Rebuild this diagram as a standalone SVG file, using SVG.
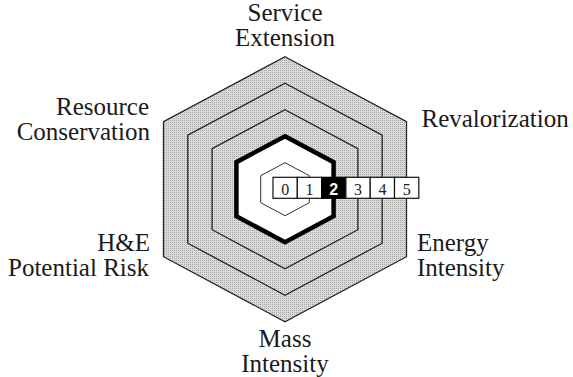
<svg xmlns="http://www.w3.org/2000/svg" width="573" height="377" viewBox="0 0 573 377">
  <style>
    .lbl { font-family: "Liberation Serif", "Times New Roman", serif; font-size: 25px; fill: #1a1a1a; }
    .ring { stroke: #222; stroke-width: 1.3; stroke-linejoin: miter; }
    .open { fill: none; }
    .band { fill: url(#stipple); }
    .cell { fill: #fff; stroke: #111; stroke-width: 1.2; }
    .num { font-family: "Liberation Serif", "Times New Roman", serif; font-size: 16px; fill: #222; text-anchor: middle; }
  </style>
  <defs>
    <!-- stippled grey used for the outer score bands -->
    <pattern id="stipple" width="2" height="2" patternUnits="userSpaceOnUse">
      <rect width="2" height="2" fill="#dadada"/>
      <rect width="1" height="1" fill="#a8a8a8"/>
    </pattern>
  </defs>
  <rect width="573" height="377" fill="#fff"/>

  <!-- score bands, level 5 down to level 1 -->
  <g id="bands">
    <polygon id="level5" class="ring band" points="285,56.7 406.5,121.7 406.5,256.7 285,321.7 163.5,256.7 163.5,121.7"/>
    <polygon id="level4" class="ring open" points="285,83.2 382.2,135.2 382.2,243.2 285,295.2 187.8,243.2 187.8,135.2"/>
    <polygon id="level3" class="ring open" points="285,109.7 357.9,148.7 357.9,229.7 285,268.7 212.1,229.7 212.1,148.7"/>
    <polygon id="level2" points="285,136.2 333.6,162.2 333.6,216.2 285,242.2 236.4,216.2 236.4,162.2" fill="#fff" stroke="#000" stroke-width="4.5" stroke-linejoin="miter"/>
    <polygon id="level1" points="285,162.7 309.3,175.7 309.3,202.7 285,215.7 260.7,202.7 260.7,175.7" fill="#fff" stroke="#333" stroke-width="1"/>
  </g>

  <!-- score scale 0..5 with the achieved score highlighted -->
  <g id="scale">
    <rect class="cell" x="273" y="177.3" width="24.3" height="21"/>
    <rect class="cell" x="297.3" y="177.3" width="24.3" height="21"/>
    <rect x="321.6" y="177.3" width="24.3" height="21" fill="#000" stroke="#000" stroke-width="1.2"/>
    <rect class="cell" x="345.9" y="177.3" width="24.3" height="21"/>
    <rect class="cell" x="370.2" y="177.3" width="24.3" height="21"/>
    <rect class="cell" x="394.5" y="177.3" width="24.3" height="21"/>
    <text class="num" x="285.2" y="195">0</text>
    <text class="num" x="309.5" y="195">1</text>
    <text x="333.8" y="195" text-anchor="middle" font-family="Liberation Sans, Arial, sans-serif" font-weight="bold" font-size="16" fill="#fff">2</text>
    <text class="num" x="358.1" y="195">3</text>
    <text class="num" x="382.4" y="195">4</text>
    <text class="num" x="406.7" y="195">5</text>
  </g>

  <!-- axis labels -->
  <g id="label-service">
    <text class="lbl" x="285" y="20.5" text-anchor="middle">Service</text>
    <text class="lbl" x="285" y="45.5" text-anchor="middle">Extension</text>
  </g>
  <g id="label-revalorization">
    <text class="lbl" x="421.5" y="127.3">Revalorization</text>
  </g>
  <g id="label-energy">
    <text class="lbl" x="417" y="251">Energy</text>
    <text class="lbl" x="417" y="276">Intensity</text>
  </g>
  <g id="label-mass">
    <text class="lbl" x="285" y="346.7" text-anchor="middle">Mass</text>
    <text class="lbl" x="285" y="371.7" text-anchor="middle">Intensity</text>
  </g>
  <g id="label-risk">
    <text class="lbl" x="150" y="251" text-anchor="end">H&amp;E</text>
    <text class="lbl" x="149" y="276" text-anchor="end">Potential Risk</text>
  </g>
  <g id="label-resource">
    <text class="lbl" x="149" y="115" text-anchor="end">Resource</text>
    <text class="lbl" x="150" y="140" text-anchor="end">Conservation</text>
  </g>
</svg>
